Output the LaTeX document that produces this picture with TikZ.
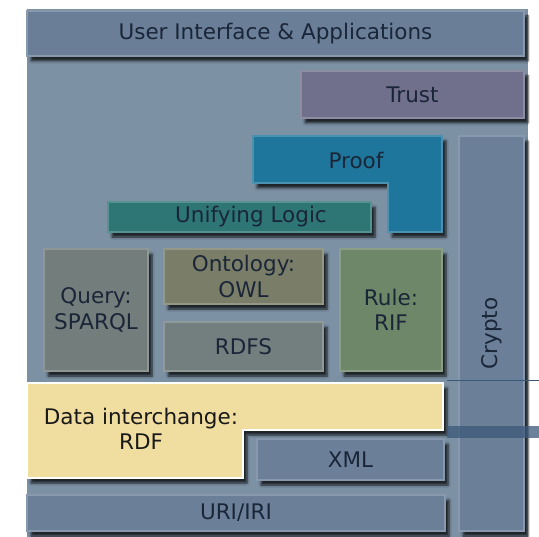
\documentclass[tikz,border=0pt]{standalone}
\usepackage{fontspec}
\setmainfont{DejaVu Sans}
\usetikzlibrary{shadows.blur}
\definecolor{bgcol}{HTML}{7C91A4}
\definecolor{uicol}{HTML}{6A7F97}
\definecolor{trustcol}{HTML}{706F8C}
\definecolor{proofcol}{HTML}{1F769C}
\definecolor{logiccol}{HTML}{2E7576}
\definecolor{querycol}{HTML}{727D7C}
\definecolor{ontocol}{HTML}{7A7E68}
\definecolor{rdfscol}{HTML}{737F7E}
\definecolor{rulecol}{HTML}{6D8768}
\definecolor{cryptocol}{HTML}{6B7F98}
\definecolor{rdfcol}{HTML}{F0DDA0}
\definecolor{xmlcol}{HTML}{6B8098}
\definecolor{txtcol}{HTML}{1A2638}
\definecolor{linecol}{HTML}{3B5878}
\tikzset{
  layer/.style={fill=#1, draw=#1!80!white, line width=1.5pt, inner sep=0pt,
    text=txtcol, font=\fontsize{21.5}{25.5}\selectfont, align=center,
    blur shadow={shadow xshift=4pt, shadow yshift=-5pt, shadow opacity=75, shadow blur steps=6}},
  label/.style={text=txtcol, font=\fontsize{21.5}{25.5}\selectfont, align=center, inner sep=0pt}
}
\begin{document}
\begin{tikzpicture}[x=1pt, y=-1pt]
\useasboundingbox (0,0) rectangle (539,537);
\fill[bgcol] (27,9) rectangle (528,537);

\node[layer=uicol, minimum width=497, minimum height=45] (ui) at (275.5,33.5) {User Interface \& Applications};
\node[layer=trustcol, minimum width=223, minimum height=47] (trust) at (412.5,94.5) {Trust};

% proof wraps round the end of the logic layer
\path[layer=proofcol] (253,136) -- (442,136) -- (442,232) -- (388,232) -- (388,183) -- (253,183) -- cycle;
\node[label] (proof) at (356,160) {Proof};

\node[layer=logiccol, minimum width=263, minimum height=30] (logicbox) at (239.5,217) {};
\node[label] (logic) at (251,217) {Unifying Logic};
\node[layer=cryptocol, minimum width=65, minimum height=395] (cryptobox) at (491.5,333.5) {};
\node[label, rotate=90] (crypto) at (cryptobox.center) {Crypto};

\node[layer=querycol, minimum width=104, minimum height=122] (query) at (96,310) {Query:\\SPARQL};
\node[layer=ontocol, minimum width=159, minimum height=55] (onto) at (243.5,276.5) {Ontology:\\OWL};
\node[layer=rdfscol, minimum width=159, minimum height=49] (rdfs) at (243.5,346.5) {RDFS};
\node[layer=rulecol, minimum width=102, minimum height=122] (rule) at (391,310) {Rule:\\RIF};

\coordinate (lineA) at (447,381);
\coordinate (lineB) at (539,381);
\draw[linecol, line width=1pt] (lineA) -- (lineB);

% data interchange, stepped over XML
\path[fill=rdfcol, draw=white, line width=2pt,
  blur shadow={shadow xshift=4pt, shadow yshift=-5pt, shadow opacity=75, shadow blur steps=6}]
  (27,383) -- (443,383) -- (443,430) -- (243,430) -- (243,478) -- (27,478) -- cycle;
\node[label, text=black!90] (rdf) at (141,429) {Data interchange:\\RDF};

\node[layer=xmlcol, minimum width=187, minimum height=41] (xml) at (350.5,459.5) {XML};
\node[layer=xmlcol, minimum width=418, minimum height=36] (uri) at (236,513) {URI/IRI};

\fill[linecol, opacity=0.75] (447,426) rectangle (539,438);
\end{tikzpicture}
\end{document}
